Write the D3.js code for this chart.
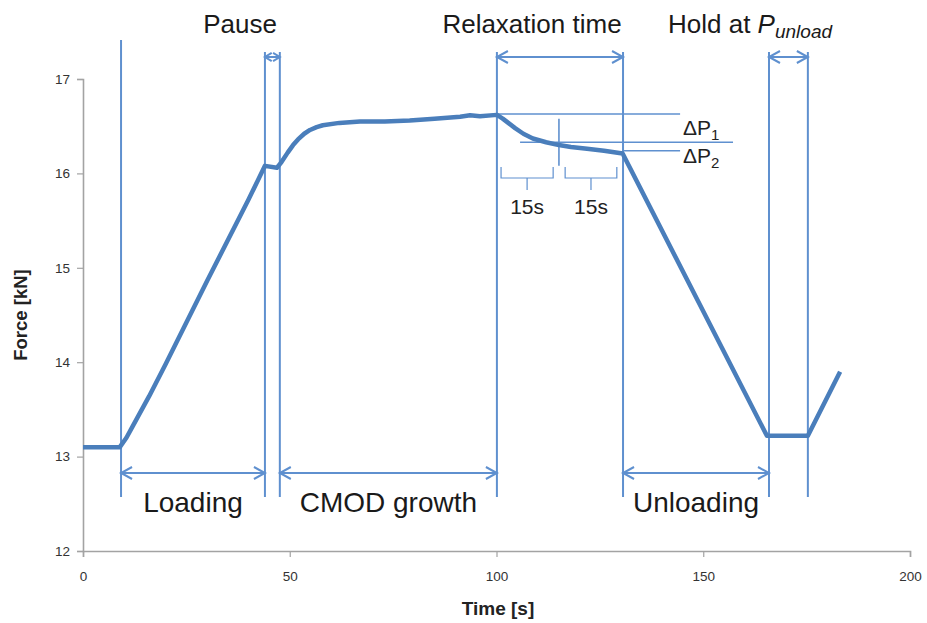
<!DOCTYPE html>
<html>
<head>
<meta charset="utf-8">
<script src="https://cdn.jsdelivr.net/npm/d3@7"></script>
<style>
  body { margin: 0; background: #fff; }
  svg { display: block; }
</style>
</head>
<body>
<svg id="chart" width="927" height="623"></svg>
<script>
"use strict";

// force curve
const timeS = [0, 8.9, 10.5, 12, 16, 20, 30, 40, 44.0, 46.9, 48.0, 49.5, 50.8, 52, 53.5, 54.9, 56.5, 58.0, 62, 67, 73, 79, 85, 91.2, 93.6, 96, 100.1,
    101.5, 103, 104.5, 106.5, 108.8, 112, 115.1, 118, 121.9, 126, 130.5, 165.4, 175.3, 183.1];
const forceKN = [13.1, 13.1, 13.2, 13.32, 13.64, 13.98, 14.86, 15.72, 16.08, 16.06, 16.12, 16.22, 16.3, 16.36, 16.42, 16.46, 16.49, 16.51, 16.535, 16.55, 16.55, 16.56, 16.58, 16.6, 16.615, 16.605, 16.62,
    16.58, 16.53, 16.48, 16.42, 16.37, 16.33, 16.30, 16.28, 16.26, 16.24, 16.21, 13.22, 13.22, 13.9];

const xTicks = [0, 50, 100, 150, 200];
const yTicks = [12, 13, 14, 15, 16, 17];

// phase boundaries [s]
const phaseTimes = [9.2, 44.0, 47.6, 100.1, 130.6, 165.9, 175.3];
const topSpans = [[44.0, 47.6], [100.1, 130.6], [165.9, 175.3]];
const bottomSpans = [[9.2, 44.0, "Loading"], [47.6, 100.1, "CMOD growth"], [130.6, 165.9, "Unloading"]];
const topLabels = [["Pause", 240], ["Relaxation time", 532]];

// relaxation levels [kN] and 15 s windows
const dP1Level = 16.63, dP2Mid = 16.33, dP2Level = 16.24;
const windows = [[101.1, 113.7], [116.6, 129.1]];

const svg = d3.select("#chart");
const x = d3.scaleLinear().domain([0, 200]).range([83, 910]);
const y = d3.scaleLinear().domain([12, 17]).range([551, 79]);

const axisGray = "#a3a3a3";
const annBlue = "#5f90cf";
const curveBlue = "#4a7ebb";
const font = "'Liberation Sans', Arial, sans-serif";

// axes
const xAxis = svg.append("g").attr("transform", "translate(0," + y(12) + ")")
    .call(d3.axisBottom(x).tickValues(xTicks).tickFormat(d3.format("d")).tickSize(6).tickPadding(14));
const yAxis = svg.append("g").attr("transform", "translate(" + x(0) + ",0)")
    .call(d3.axisLeft(y).tickValues(yTicks).tickFormat(d3.format("d")).tickSize(6).tickPadding(7));
[xAxis, yAxis].forEach(function (a) {
    a.select(".domain").attr("stroke", axisGray).attr("stroke-width", 1.6);
    a.selectAll(".tick line").attr("stroke", axisGray).attr("stroke-width", 1.2);
    a.selectAll(".tick text").attr("fill", "#333").style("font-family", font).style("font-size", "13.5px");
});

svg.append("text")
    .attr("x", 498).attr("y", 615)
    .attr("text-anchor", "middle")
    .style("font-family", font).style("font-size", "19px").style("font-weight", "bold")
    .attr("fill", "#222")
    .text("Time [s]");
svg.append("text")
    .attr("transform", "translate(27,315) rotate(-90)")
    .attr("text-anchor", "middle")
    .style("font-family", font).style("font-size", "18.5px").style("font-weight", "bold")
    .attr("fill", "#222")
    .text("Force [kN]");

// phase boundary lines
svg.selectAll("line.phase")
    .data(phaseTimes)
    .enter()
    .append("line")
    .attr("class", "phase")
    .attr("x1", function (d) { return x(d); })
    .attr("x2", function (d) { return x(d); })
    .attr("y1", function (d, i) { return i === 0 ? 40 : 52; })
    .attr("y2", 497)
    .attr("stroke", annBlue)
    .attr("stroke-width", 2);

function doubleArrow(x1, x2, yy) {
    const g = svg.append("g").attr("stroke", annBlue).attr("stroke-width", 2).attr("fill", "none");
    const h = Math.min(11, (x2 - x1) / 2.2), w = Math.min(6, h * 0.6);
    g.append("line").attr("x1", x1).attr("x2", x2).attr("y1", yy).attr("y2", yy);
    g.append("path").attr("d", "M" + (x1 + h) + "," + (yy - w) + "L" + x1 + "," + yy + "L" + (x1 + h) + "," + (yy + w));
    g.append("path").attr("d", "M" + (x2 - h) + "," + (yy - w) + "L" + x2 + "," + yy + "L" + (x2 - h) + "," + (yy + w));
}

topSpans.forEach(function (s) { doubleArrow(x(s[0]), x(s[1]), 57); });
bottomSpans.forEach(function (s) { doubleArrow(x(s[0]), x(s[1]), 473); });

// labels
svg.selectAll("text.top")
    .data(topLabels)
    .enter()
    .append("text")
    .attr("class", "top")
    .attr("x", function (d) { return d[1]; })
    .attr("y", 33)
    .attr("text-anchor", "middle")
    .style("font-family", font).style("font-size", "26px")
    .attr("fill", "#1a1a1a")
    .text(function (d) { return d[0]; });

const hold = svg.append("text")
    .attr("x", 668).attr("y", 33)
    .style("font-family", font).style("font-size", "26px")
    .attr("fill", "#1a1a1a");
hold.append("tspan").text("Hold at ");
hold.append("tspan").style("font-style", "italic").text("P");
hold.append("tspan").style("font-style", "italic").style("font-size", "19px").attr("dy", 5).text("unload");

svg.selectAll("text.bottom")
    .data(bottomSpans)
    .enter()
    .append("text")
    .attr("class", "bottom")
    .attr("x", function (d) { return (x(d[0]) + x(d[1])) / 2; })
    .attr("y", 512)
    .attr("text-anchor", "middle")
    .style("font-family", font).style("font-size", "28px")
    .attr("fill", "#1a1a1a")
    .text(function (d) { return d[2]; });

// relaxation annotations
const ann = svg.append("g").attr("stroke", annBlue).attr("stroke-width", 1.6).attr("fill", "none");
ann.append("line").attr("x1", x(100.1)).attr("x2", x(144.4)).attr("y1", y(dP1Level)).attr("y2", y(dP1Level));
ann.append("line").attr("x1", x(105.7)).attr("x2", x(157.2)).attr("y1", y(dP2Mid)).attr("y2", y(dP2Mid));
ann.append("line").attr("x1", x(130.6)).attr("x2", x(144.4)).attr("y1", y(dP2Level)).attr("y2", y(dP2Level));
ann.append("line").attr("x1", x(115.1)).attr("x2", x(115.1)).attr("y1", y(16.58)).attr("y2", y(16.08));

windows.forEach(function (w) {
    const a = x(w[0]), b = x(w[1]), m = (a + b) / 2;
    ann.append("path").attr("stroke-width", 1.2)
        .attr("d", "M" + a + ",167V178H" + b + "V167M" + m + ",178V190");
    svg.append("text")
        .attr("x", m).attr("y", 214)
        .attr("text-anchor", "middle")
        .style("font-family", font).style("font-size", "21px")
        .attr("fill", "#222")
        .text("15s");
});

[["1", 135], ["2", 163]].forEach(function (d) {
    const t = svg.append("text")
        .attr("x", 683).attr("y", d[1])
        .style("font-family", font).style("font-size", "21px")
        .attr("fill", "#222");
    t.append("tspan").text("ΔP");
    t.append("tspan").style("font-size", "15px").attr("dy", 5).text(d[0]);
});

// force curve
const line = d3.line()
    .x(function (d) { return x(d[0]); })
    .y(function (d) { return y(d[1]); });

svg.append("path")
    .datum(d3.zip(timeS, forceKN))
    .attr("d", line)
    .attr("fill", "none")
    .attr("stroke", curveBlue)
    .attr("stroke-width", 4.5)
    .attr("stroke-linejoin", "round");
</script>
</body>
</html>
